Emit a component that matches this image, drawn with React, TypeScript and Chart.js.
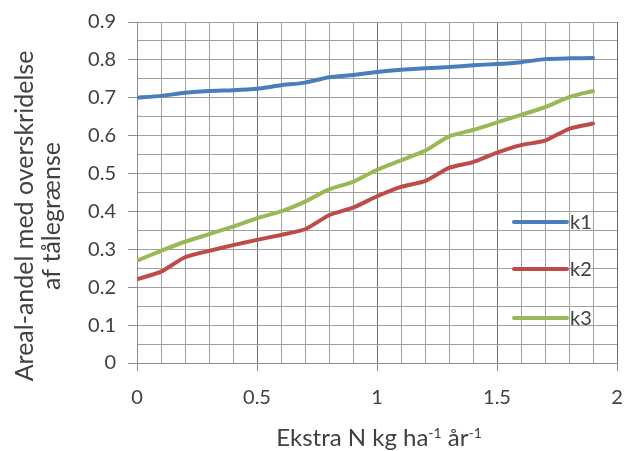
import React, { useEffect, useRef } from "react";
import { Chart, registerables } from "chart.js";

Chart.register(...registerables);

const xValues = [0, 0.1, 0.2, 0.3, 0.4, 0.5, 0.6, 0.7, 0.8, 0.9, 1.0, 1.1, 1.2, 1.3, 1.4, 1.5, 1.6, 1.7, 1.8, 1.9];
const k1 = [0.70, 0.705, 0.713, 0.718, 0.72, 0.724, 0.733, 0.74, 0.754, 0.76, 0.768, 0.774, 0.778, 0.781, 0.786, 0.789, 0.794, 0.802, 0.804, 0.805];
const k2 = [0.221, 0.241, 0.279, 0.296, 0.311, 0.325, 0.338, 0.353, 0.39, 0.41, 0.44, 0.465, 0.48, 0.515, 0.53, 0.555, 0.575, 0.587, 0.618, 0.632];
const k3 = [0.27, 0.296, 0.32, 0.34, 0.36, 0.382, 0.40, 0.426, 0.458, 0.478, 0.51, 0.535, 0.56, 0.598, 0.615, 0.635, 0.655, 0.675, 0.702, 0.718];
const seriesNames = ["k1", "k2", "k3"];
const seriesColors = ["#4A7EBB", "#BE4B48", "#98B954"];
const yTitleLines = ["Areal-andel med overskridelse", "af tålegrænse"];
const xTitleParts: [string, boolean][] = [["Ekstra N kg ha", false], ["-1", true], [" år", false], ["-1", true]];

const FONT = "Lato, 'Open Sans', sans-serif";

const isMult = (v: number, step: number) => {
  const r = v / step;
  return Math.abs(r - Math.round(r)) < 1e-6;
};

const titlesPlugin = {
  id: "customTitles",
  afterDraw(chart: any) {
    const ctx = chart.ctx;
    const area = chart.chartArea;
    ctx.save();
    ctx.fillStyle = "#404040";
    // Y title
    ctx.font = `25px ${FONT}`;
    ctx.textAlign = "center";
    ctx.textBaseline = "middle";
    const cy = 216;
    const xs = [25, 52];
    yTitleLines.forEach((line, i) => {
      ctx.save();
      ctx.translate(xs[i], cy);
      ctx.rotate(-Math.PI / 2);
      ctx.fillText(line, 0, 0);
      ctx.restore();
    });
    // X title with superscripts
    const base = 446;
    const normal = `24px ${FONT}`;
    const sup = `14px ${FONT}`;
    let total = 0;
    xTitleParts.forEach(([t, s]) => {
      ctx.font = s ? sup : normal;
      total += ctx.measureText(t).width;
    });
    let x = (area.left + area.right) / 2 + 2 - total / 2;
    ctx.textAlign = "left";
    ctx.textBaseline = "alphabetic";
    xTitleParts.forEach(([t, s]) => {
      ctx.font = s ? sup : normal;
      ctx.fillText(t, x, s ? base - 8 : base);
      x += ctx.measureText(t).width;
    });
    // Legend
    const ly = [222, 269, 318];
    seriesNames.forEach((n, i) => {
      ctx.strokeStyle = seriesColors[i];
      ctx.lineWidth = 4;
      ctx.lineCap = "round";
      ctx.beginPath();
      ctx.moveTo(514, ly[i]);
      ctx.lineTo(567, ly[i]);
      ctx.stroke();
      ctx.fillStyle = "#404040";
      ctx.font = `20px ${FONT}`;
      ctx.textBaseline = "middle";
      ctx.fillText(n, 570, ly[i] + 1);
    });
    ctx.restore();
  },
};

export default function App() {
  const ref = useRef<HTMLCanvasElement>(null);
  useEffect(() => {
    if (!ref.current) return;
    const mk = (arr: number[]) => xValues.map((x, i) => ({ x, y: arr[i] }));
    const chart = new Chart(ref.current, {
      type: "line",
      data: {
        datasets: [k1, k2, k3].map((arr, i) => ({
          label: seriesNames[i],
          data: mk(arr),
          borderColor: seriesColors[i],
          backgroundColor: seriesColors[i],
          borderWidth: 4,
          pointRadius: 0,
          tension: 0.2,
          borderCapStyle: "round" as const,
        })),
      },
      options: {
        responsive: false,
        animation: false,
        layout: { padding: { top: 22, right: 9, left: 0, bottom: 0 } },
        plugins: { legend: { display: false }, tooltip: { enabled: false } },
        scales: {
          x: {
            type: "linear",
            min: 0,
            max: 2,
            afterFit: (s: any) => { s.height = 88; s.paddingLeft = 0; s.paddingRight = 0; },
            ticks: {
              stepSize: 0.1,
              autoSkip: false,
              maxRotation: 0,
              padding: 15,
              color: "#404040",
              font: { family: FONT, size: 20 },
              callback: (v: any) => (isMult(v, 0.5) ? String(Math.round(v * 10) / 10) : ""),
            },
            grid: {
              color: (c: any) => (isMult(c.tick.value, 0.5) ? "#6e6e6e" : "#a0a0a0"),
              lineWidth: 1,
              tickLength: 8,
              tickColor: (c: any) => (isMult(c.tick.value, 0.5) ? "#8c8c8c" : "rgba(0,0,0,0)"),
            },
            border: { color: "#8c8c8c", width: 1 },
          },
          y: {
            min: 0,
            max: 0.9,
            afterFit: (s: any) => { s.width = 137; s.paddingTop = 0; s.paddingBottom = 0; },
            ticks: {
              stepSize: 0.05,
              autoSkip: false,
              padding: 12,
              color: "#404040",
              font: { family: FONT, size: 20 },
              callback: (v: any) => (isMult(v, 0.1) ? (Math.abs(v) < 1e-9 ? "0" : (Math.round(v * 10) / 10).toFixed(1)) : ""),
            },
            grid: {
              color: "#a0a0a0",
              lineWidth: 1,
              tickLength: 9,
              tickColor: (c: any) => (isMult(c.tick.value, 0.1) ? "#8c8c8c" : "rgba(0,0,0,0)"),
            },
            border: { color: "#8c8c8c", width: 1 },
          },
        },
      },
      plugins: [titlesPlugin],
    });
    return () => chart.destroy();
  }, []);
  return (
    <div style={{ position: "fixed", left: 0, top: 0, width: 626, height: 451, background: "#fff" }}>
      <canvas ref={ref} width={626} height={451} style={{ width: 626, height: 451 }} />
    </div>
  );
}
